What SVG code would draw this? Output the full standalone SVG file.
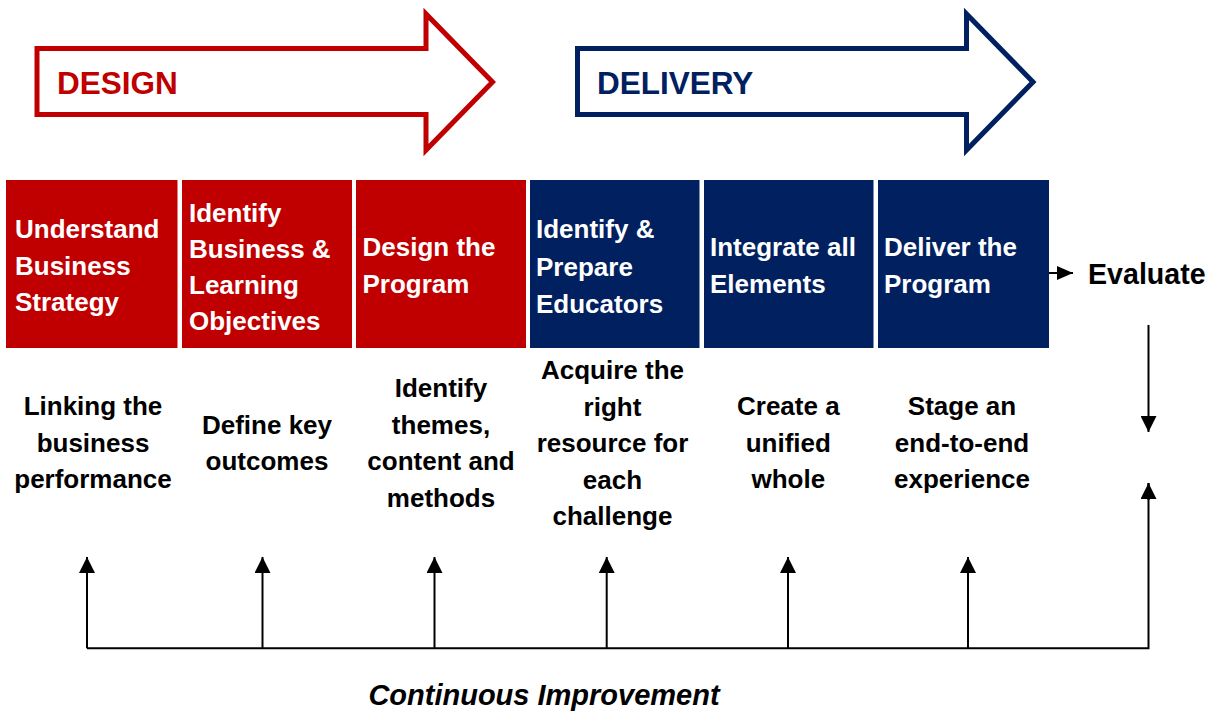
<svg xmlns="http://www.w3.org/2000/svg" width="1220" height="713" viewBox="0 0 1220 713">
<style>
.bg{fill:#ffffff}
.red{fill:#C00000}
.navy{fill:#002060}
.phase{fill:#ffffff;stroke-width:5;stroke-linejoin:miter;stroke-miterlimit:10}
.ptxt{font-family:"Liberation Sans",Arial,sans-serif;font-weight:bold;font-size:31.5px}
.btxt{font-family:"Liberation Sans",Arial,sans-serif;font-weight:bold;font-size:26px;fill:#ffffff}
.dtxt{font-family:"Liberation Sans",Arial,sans-serif;font-weight:bold;font-size:26px;fill:#000000;text-anchor:middle}
.etxt{font-family:"Liberation Sans",Arial,sans-serif;font-weight:bold;font-size:28.6px;fill:#000000}
.ctxt{font-family:"Liberation Sans",Arial,sans-serif;font-weight:bold;font-style:italic;font-size:29px;fill:#000000;text-anchor:middle}
.conn{stroke:#000000;stroke-width:2;fill:none}
</style>
<defs>
<marker id="ah" markerUnits="userSpaceOnUse" viewBox="0 0 16 16" markerWidth="16" markerHeight="16" refX="16" refY="8" orient="auto">
<path d="M0,0 L16,8 L0,16 z" fill="#000000"/>
</marker>
<marker id="ahs" markerUnits="userSpaceOnUse" viewBox="0 0 16 14" markerWidth="16" markerHeight="14" refX="16" refY="7" orient="auto">
<path d="M0,0 L16,7 L0,14 z" fill="#000000"/>
</marker>
</defs>
<rect class="bg" x="0" y="0" width="1220" height="713"/>

<g id="design-arrow">
<polygon class="phase" stroke="#C00000" points="37,48.5 426,48.5 426,14 492.5,82 426,150 426,114.5 37,114.5"/>
<text class="ptxt" fill="#C00000" x="57" y="94">DESIGN</text>
</g>
<g id="delivery-arrow">
<polygon class="phase" stroke="#002060" points="577.5,48.5 966.5,48.5 966.5,14 1033,82 966.5,150 966.5,114.5 577.5,114.5"/>
<text class="ptxt" fill="#002060" x="597" y="94">DELIVERY</text>
</g>

<g id="step-understand">
<rect class="red" x="6" y="180" width="171.5" height="168"/>
<text class="btxt"><tspan x="15" y="238">Understand</tspan><tspan x="15" y="274.5">Business</tspan><tspan x="15" y="311">Strategy</tspan></text>
</g>
<g id="step-identify-objectives">
<rect class="red" x="182" y="180" width="170" height="168"/>
<text class="btxt"><tspan x="189" y="221.5">Identify</tspan><tspan x="189" y="257.5">Business &amp;</tspan><tspan x="189" y="293.5">Learning</tspan><tspan x="189" y="329.5">Objectives</tspan></text>
</g>
<g id="step-design-program">
<rect class="red" x="356" y="180" width="170" height="168"/>
<text class="btxt"><tspan x="362.5" y="256">Design the</tspan><tspan x="362.5" y="293">Program</tspan></text>
</g>
<g id="step-educators">
<rect class="navy" x="530" y="180" width="169.5" height="168"/>
<text class="btxt"><tspan x="536" y="238">Identify &amp;</tspan><tspan x="536" y="275.5">Prepare</tspan><tspan x="536" y="312.5">Educators</tspan></text>
</g>
<g id="step-integrate">
<rect class="navy" x="704" y="180" width="169.5" height="168"/>
<text class="btxt"><tspan x="710" y="256">Integrate all</tspan><tspan x="710" y="293">Elements</tspan></text>
</g>
<g id="step-deliver">
<rect class="navy" x="878" y="180" width="171" height="168"/>
<text class="btxt"><tspan x="884" y="256">Deliver the</tspan><tspan x="884" y="293">Program</tspan></text>
</g>

<g id="desc-linking">
<text class="dtxt"><tspan x="93" y="415">Linking the</tspan><tspan x="93" y="451.5">business</tspan><tspan x="93" y="488">performance</tspan></text>
</g>
<g id="desc-outcomes">
<text class="dtxt"><tspan x="267" y="434">Define key</tspan><tspan x="267" y="470">outcomes</tspan></text>
</g>
<g id="desc-themes">
<text class="dtxt"><tspan x="441" y="397">Identify</tspan><tspan x="441" y="433.5">themes,</tspan><tspan x="441" y="470">content and</tspan><tspan x="441" y="506.5">methods</tspan></text>
</g>
<g id="desc-resource">
<text class="dtxt"><tspan x="612.5" y="379">Acquire the</tspan><tspan x="612.5" y="415.5">right</tspan><tspan x="612.5" y="452">resource for</tspan><tspan x="612.5" y="488.5">each</tspan><tspan x="612.5" y="525">challenge</tspan></text>
</g>
<g id="desc-unified">
<text class="dtxt"><tspan x="788.3" y="415">Create a</tspan><tspan x="788.3" y="451.5">unified</tspan><tspan x="788.3" y="488">whole</tspan></text>
</g>
<g id="desc-stage">
<text class="dtxt"><tspan x="962" y="415">Stage an</tspan><tspan x="962" y="451.5">end-to-end</tspan><tspan x="962" y="488">experience</tspan></text>
</g>

<g id="evaluate">
<text class="etxt" x="1088" y="284">Evaluate</text>
</g>
<g id="continuous-improvement">
<text class="ctxt" x="544" y="705">Continuous Improvement</text>
</g>

<g id="connectors">
<line class="conn" x1="1049" y1="273" x2="1073" y2="273" marker-end="url(#ahs)"/>
<line class="conn" x1="1148.5" y1="325" x2="1148.5" y2="432" marker-end="url(#ah)"/>
<polyline class="conn" points="87,648.3 1148.5,648.3 1148.5,483"/>
<line class="conn" x1="1148.5" y1="500" x2="1148.5" y2="483" marker-end="url(#ah)"/>
<line class="conn" x1="87" y1="648.3" x2="87" y2="557" marker-end="url(#ah)"/>
<line class="conn" x1="262.5" y1="648.3" x2="262.5" y2="557" marker-end="url(#ah)"/>
<line class="conn" x1="434.5" y1="648.3" x2="434.5" y2="557" marker-end="url(#ah)"/>
<line class="conn" x1="606.7" y1="648.3" x2="606.7" y2="557" marker-end="url(#ah)"/>
<line class="conn" x1="788" y1="648.3" x2="788" y2="557" marker-end="url(#ah)"/>
<line class="conn" x1="968" y1="648.3" x2="968" y2="557" marker-end="url(#ah)"/>
</g>
</svg>
